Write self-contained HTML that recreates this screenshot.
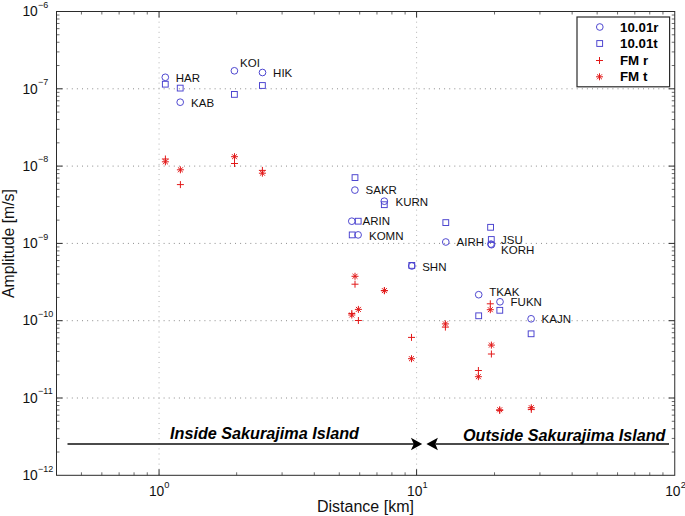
<!DOCTYPE html>
<html><head><meta charset="utf-8"><title>Amplitude vs Distance</title>
<style>html,body{margin:0;padding:0;background:#fff;}body{width:685px;height:516px;overflow:hidden;}svg{display:block;font-family:"Liberation Sans",sans-serif;}</style></head><body>
<svg width="685" height="516" viewBox="0 0 685 516">
<rect x="0" y="0" width="685" height="516" fill="#ffffff"/>
<g stroke="#8c8c8c" stroke-width="1" stroke-dasharray="1 4.1" fill="none">
<line x1="56.50" y1="398.00" x2="674.75" y2="398.00"/>
<line x1="56.50" y1="320.70" x2="674.75" y2="320.70"/>
<line x1="56.50" y1="243.40" x2="674.75" y2="243.40"/>
<line x1="56.50" y1="166.10" x2="674.75" y2="166.10"/>
<line x1="56.50" y1="88.80" x2="674.75" y2="88.80"/>
</g>
<g stroke="#b4b4b4" stroke-width="1" stroke-dasharray="1 4.08" fill="none">
<line x1="159.05" y1="11.50" x2="159.05" y2="475.30"/>
<line x1="416.60" y1="11.50" x2="416.60" y2="475.30"/>
</g>
<path d="M159.05 475.30v-6.0M159.05 11.50v6.0M416.60 475.30v-6.0M416.60 11.50v6.0M56.50 398.00h6.0M674.75 398.00h-6.0M56.50 320.70h6.0M674.75 320.70h-6.0M56.50 243.40h6.0M674.75 243.40h-6.0M56.50 166.10h6.0M674.75 166.10h-6.0M56.50 88.80h6.0M674.75 88.80h-6.0" stroke="#2b2b2b" stroke-width="1" fill="none"/>
<path d="M81.43 475.30v-3.0M81.43 11.50v3.0M101.85 475.30v-3.0M101.85 11.50v3.0M119.11 475.30v-3.0M119.11 11.50v3.0M134.06 475.30v-3.0M134.06 11.50v3.0M147.25 475.30v-3.0M147.25 11.50v3.0M236.67 475.30v-3.0M236.67 11.50v3.0M282.08 475.30v-3.0M282.08 11.50v3.0M314.29 475.30v-3.0M314.29 11.50v3.0M339.28 475.30v-3.0M339.28 11.50v3.0M359.70 475.30v-3.0M359.70 11.50v3.0M376.96 475.30v-3.0M376.96 11.50v3.0M391.91 475.30v-3.0M391.91 11.50v3.0M405.10 475.30v-3.0M405.10 11.50v3.0M494.52 475.30v-3.0M494.52 11.50v3.0M539.93 475.30v-3.0M539.93 11.50v3.0M572.14 475.30v-3.0M572.14 11.50v3.0M597.13 475.30v-3.0M597.13 11.50v3.0M617.55 475.30v-3.0M617.55 11.50v3.0M634.81 475.30v-3.0M634.81 11.50v3.0M649.76 475.30v-3.0M649.76 11.50v3.0M662.95 475.30v-3.0M662.95 11.50v3.0M56.50 452.03h3.0M674.75 452.03h-3.0M56.50 438.42h3.0M674.75 438.42h-3.0M56.50 428.76h3.0M674.75 428.76h-3.0M56.50 421.27h3.0M674.75 421.27h-3.0M56.50 415.15h3.0M674.75 415.15h-3.0M56.50 409.97h3.0M674.75 409.97h-3.0M56.50 405.49h3.0M674.75 405.49h-3.0M56.50 401.54h3.0M674.75 401.54h-3.0M56.50 374.73h3.0M674.75 374.73h-3.0M56.50 361.12h3.0M674.75 361.12h-3.0M56.50 351.46h3.0M674.75 351.46h-3.0M56.50 343.97h3.0M674.75 343.97h-3.0M56.50 337.85h3.0M674.75 337.85h-3.0M56.50 332.67h3.0M674.75 332.67h-3.0M56.50 328.19h3.0M674.75 328.19h-3.0M56.50 324.24h3.0M674.75 324.24h-3.0M56.50 297.43h3.0M674.75 297.43h-3.0M56.50 283.82h3.0M674.75 283.82h-3.0M56.50 274.16h3.0M674.75 274.16h-3.0M56.50 266.67h3.0M674.75 266.67h-3.0M56.50 260.55h3.0M674.75 260.55h-3.0M56.50 255.37h3.0M674.75 255.37h-3.0M56.50 250.89h3.0M674.75 250.89h-3.0M56.50 246.94h3.0M674.75 246.94h-3.0M56.50 220.13h3.0M674.75 220.13h-3.0M56.50 206.52h3.0M674.75 206.52h-3.0M56.50 196.86h3.0M674.75 196.86h-3.0M56.50 189.37h3.0M674.75 189.37h-3.0M56.50 183.25h3.0M674.75 183.25h-3.0M56.50 178.07h3.0M674.75 178.07h-3.0M56.50 173.59h3.0M674.75 173.59h-3.0M56.50 169.64h3.0M674.75 169.64h-3.0M56.50 142.83h3.0M674.75 142.83h-3.0M56.50 129.22h3.0M674.75 129.22h-3.0M56.50 119.56h3.0M674.75 119.56h-3.0M56.50 112.07h3.0M674.75 112.07h-3.0M56.50 105.95h3.0M674.75 105.95h-3.0M56.50 100.77h3.0M674.75 100.77h-3.0M56.50 96.29h3.0M674.75 96.29h-3.0M56.50 92.34h3.0M674.75 92.34h-3.0M56.50 65.53h3.0M674.75 65.53h-3.0M56.50 51.92h3.0M674.75 51.92h-3.0M56.50 42.26h3.0M674.75 42.26h-3.0M56.50 34.77h3.0M674.75 34.77h-3.0M56.50 28.65h3.0M674.75 28.65h-3.0M56.50 23.47h3.0M674.75 23.47h-3.0M56.50 18.99h3.0M674.75 18.99h-3.0M56.50 15.04h3.0M674.75 15.04h-3.0" stroke="#3a3a3a" stroke-width="0.75" fill="none"/>
<rect x="56.5" y="11.5" width="618.25" height="463.8" fill="none" stroke="#2b2b2b" stroke-width="1"/>
<g fill="#111" font-size="13.8">
<text x="22.4" y="480.00">10<tspan font-size="9" dx="0.3" dy="-8.5">−12</tspan></text>
<text x="22.4" y="402.70">10<tspan font-size="9" dx="0.3" dy="-8.5">−11</tspan></text>
<text x="22.4" y="325.40">10<tspan font-size="9" dx="0.3" dy="-8.5">−10</tspan></text>
<text x="22.4" y="248.10">10<tspan font-size="9" dx="0.3" dy="-8.5">−9</tspan></text>
<text x="22.4" y="170.80">10<tspan font-size="9" dx="0.3" dy="-8.5">−8</tspan></text>
<text x="22.4" y="93.50">10<tspan font-size="9" dx="0.3" dy="-8.5">−7</tspan></text>
<text x="22.4" y="16.20">10<tspan font-size="9" dx="0.3" dy="-8.5">−6</tspan></text>
<text x="148.90" y="495.7">10<tspan font-size="9.3" dx="0.1" dy="-8.1">0</tspan></text>
<text x="407.00" y="495.7">10<tspan font-size="9.3" dx="0.1" dy="-8.1">1</tspan></text>
<text x="665.20" y="495.7">10<tspan font-size="9.3" dx="0.1" dy="-8.1">2</tspan></text>
</g>
<text x="317.0" y="512.1" font-size="16" fill="#111">Distance [km]</text>
<text transform="translate(14.0 298) rotate(-90)" font-size="15.8" fill="#111">Amplitude [m/s]</text>
<rect x="577" y="17" width="92.6" height="69.8" fill="#ffffff" stroke="#2b2b2b" stroke-width="1.2"/>
<g fill="none" stroke="#473fce" stroke-width="0.95">
<circle cx="165.3" cy="77.3" r="3.35"/>
<circle cx="180.2" cy="102.2" r="3.35"/>
<circle cx="234.4" cy="70.8" r="3.35"/>
<circle cx="262.5" cy="72.5" r="3.35"/>
<circle cx="354.9" cy="190.1" r="3.35"/>
<circle cx="384.3" cy="201.2" r="3.35"/>
<circle cx="351.8" cy="221.2" r="3.35"/>
<circle cx="358.1" cy="234.9" r="3.35"/>
<circle cx="411.8" cy="266.0" r="3.35"/>
<circle cx="445.8" cy="242.0" r="3.35"/>
<circle cx="490.9" cy="244.1" r="3.35"/>
<circle cx="491.5" cy="244.7" r="3.35"/>
<circle cx="478.7" cy="294.7" r="3.35"/>
<circle cx="500.0" cy="301.8" r="3.35"/>
<circle cx="531.1" cy="318.8" r="3.35"/>
<circle cx="599.8" cy="27.0" r="3.35"/>
<rect x="162.40" y="81.30" width="5.8" height="5.8"/>
<rect x="177.30" y="85.20" width="5.8" height="5.8"/>
<rect x="231.50" y="91.50" width="5.8" height="5.8"/>
<rect x="259.50" y="82.60" width="5.8" height="5.8"/>
<rect x="352.10" y="174.70" width="5.8" height="5.8"/>
<rect x="381.40" y="201.80" width="5.8" height="5.8"/>
<rect x="355.30" y="218.30" width="5.8" height="5.8"/>
<rect x="349.30" y="232.00" width="5.8" height="5.8"/>
<rect x="408.90" y="262.50" width="5.8" height="5.8"/>
<rect x="442.90" y="219.70" width="5.8" height="5.8"/>
<rect x="487.70" y="224.40" width="5.8" height="5.8"/>
<rect x="488.40" y="236.60" width="5.8" height="5.8"/>
<rect x="475.80" y="312.90" width="5.8" height="5.8"/>
<rect x="496.90" y="307.40" width="5.8" height="5.8"/>
<rect x="528.20" y="330.90" width="5.8" height="5.8"/>
<rect x="596.80" y="40.60" width="5.8" height="5.8"/>
</g>
<g fill="none" stroke="#e21a1a" stroke-width="1">
<path d="M161.90 159.00h7.0M165.40 155.50v7.0M176.90 184.60h7.0M180.40 181.10v7.0M231.00 163.50h7.0M234.50 160.00v7.0M258.90 170.40h7.0M262.40 166.90v7.0M351.50 284.20h7.0M355.00 280.70v7.0M380.90 290.70h7.0M384.40 287.20v7.0M348.30 313.50h7.0M351.80 310.00v7.0M354.90 320.50h7.0M358.40 317.00v7.0M441.90 327.10h7.0M445.40 323.60v7.0M408.00 337.40h7.0M411.50 333.90v7.0M486.80 303.80h7.0M490.30 300.30v7.0M487.90 354.00h7.0M491.40 350.50v7.0M474.90 370.50h7.0M478.40 367.00v7.0M496.20 410.40h7.0M499.70 406.90v7.0M527.80 409.40h7.0M531.30 405.90v7.0M596.00 60.50h7.0M599.50 57.00v7.0"/>
<path d="M161.90 161.80h7.0M165.40 158.30v7.0M162.93 159.33l4.95 4.95M162.93 164.27l4.95 -4.95M176.90 169.80h7.0M180.40 166.30v7.0M177.93 167.33l4.95 4.95M177.93 172.27l4.95 -4.95M231.00 156.70h7.0M234.50 153.20v7.0M232.03 154.23l4.95 4.95M232.03 159.17l4.95 -4.95M258.90 173.20h7.0M262.40 169.70v7.0M259.93 170.73l4.95 4.95M259.93 175.67l4.95 -4.95M351.50 276.30h7.0M355.00 272.80v7.0M352.53 273.83l4.95 4.95M352.53 278.77l4.95 -4.95M380.90 290.60h7.0M384.40 287.10v7.0M381.93 288.13l4.95 4.95M381.93 293.07l4.95 -4.95M354.90 309.40h7.0M358.40 305.90v7.0M355.93 306.93l4.95 4.95M355.93 311.87l4.95 -4.95M348.30 315.00h7.0M351.80 311.50v7.0M349.33 312.53l4.95 4.95M349.33 317.47l4.95 -4.95M441.90 323.90h7.0M445.40 320.40v7.0M442.93 321.43l4.95 4.95M442.93 326.37l4.95 -4.95M408.00 358.70h7.0M411.50 355.20v7.0M409.03 356.23l4.95 4.95M409.03 361.17l4.95 -4.95M486.80 309.70h7.0M490.30 306.20v7.0M487.83 307.23l4.95 4.95M487.83 312.17l4.95 -4.95M487.90 345.10h7.0M491.40 341.60v7.0M488.93 342.63l4.95 4.95M488.93 347.57l4.95 -4.95M474.90 376.70h7.0M478.40 373.20v7.0M475.93 374.23l4.95 4.95M475.93 379.17l4.95 -4.95M496.20 409.80h7.0M499.70 406.30v7.0M497.23 407.33l4.95 4.95M497.23 412.27l4.95 -4.95M527.80 407.70h7.0M531.30 404.20v7.0M528.83 405.23l4.95 4.95M528.83 410.17l4.95 -4.95M596.00 76.80h7.0M599.50 73.30v7.0M597.03 74.33l4.95 4.95M597.03 79.27l4.95 -4.95"/>
</g>
<g font-size="13.3" font-weight="bold" fill="#000">
<text x="620" y="31.6">10.01r</text>
<text x="620" y="47.9">10.01t</text>
<text x="620" y="64.6">FM r</text>
<text x="620" y="81.2">FM t</text>
</g>
<g font-size="11.5" fill="#111">
<text x="175.80" y="81.90">HAR</text>
<text x="191.10" y="106.90">KAB</text>
<text x="240.10" y="67.20">KOI</text>
<text x="273.10" y="77.20">HIK</text>
<text x="365.60" y="193.80">SAKR</text>
<text x="395.60" y="205.50">KURN</text>
<text x="362.60" y="225.00">ARIN</text>
<text x="369.00" y="239.50">KOMN</text>
<text x="422.20" y="270.60">SHN</text>
<text x="456.60" y="246.10">AIRH</text>
<text x="501.10" y="244.00">JSU</text>
<text x="501.10" y="254.20">KORH</text>
<text x="489.30" y="296.10">TKAK</text>
<text x="510.60" y="306.00">FUKN</text>
<text x="541.60" y="322.70">KAJN</text>
</g>
<g stroke="#111" stroke-width="1.5" fill="none"><path d="M67.5 444H414M435.4 444H669"/></g>
<path d="M422.2 444L410.9 437.7L413.8 444L410.9 450.3Z" fill="#000"/>
<path d="M426.4 444L437.9 437.7L435.4 444L437.9 450.3Z" fill="#000"/>
<g font-size="16.2" font-weight="bold" font-style="italic" fill="#000">
<text x="170" y="438.7">Inside Sakurajima Island</text>
<text x="463" y="440.7">Outside Sakurajima Island</text>
</g>
</svg></body></html>
